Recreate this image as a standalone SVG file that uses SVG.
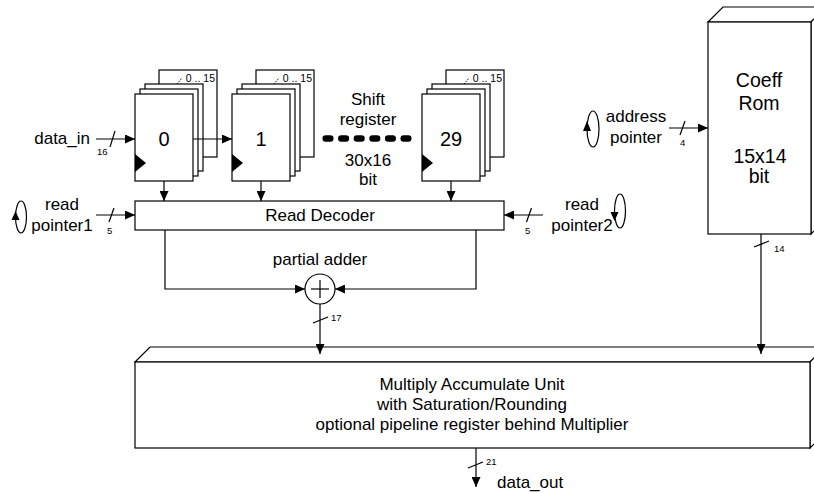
<svg xmlns="http://www.w3.org/2000/svg" width="814" height="493" viewBox="0 0 814 493">
<style>
.box{fill:#fff;stroke:#000;stroke-width:1.2}
.ln{fill:none;stroke:#000;stroke-width:1.2}
.t{font-family:"Liberation Sans",Arial,sans-serif;font-size:17px;fill:#000}
.c{text-anchor:middle}
.s{font-family:"Liberation Sans",Arial,sans-serif;font-size:9.5px;fill:#000}
.idx{font-family:"Liberation Sans",Arial,sans-serif;font-size:10.5px;fill:#000;text-anchor:end}
.num{font-family:"Liberation Sans",Arial,sans-serif;font-size:20px;fill:#000;text-anchor:middle}
</style>
<defs>
<marker id="ah" markerUnits="userSpaceOnUse" markerWidth="10" markerHeight="9" refX="10" refY="4.5" orient="auto">
<path d="M0,0 L10,4.5 L0,9 z" fill="#000"/>
</marker>
<g id="reg">
<rect class="box" x="159" y="70" width="58" height="87"/>
<line x1="177" y1="84" x2="182" y2="78" stroke="#000" stroke-width="1" stroke-dasharray="1.5 1.2"/>
<text class="idx" x="215" y="82">0 .. 15</text>
<rect class="box" x="145" y="84" width="58" height="87"/>
<rect class="box" x="140" y="89" width="58" height="87"/>
<rect class="box" x="135" y="94" width="58" height="87"/>
<polygon points="135,154 146,163 135,172" fill="#000"/>
</g>
</defs>

<g id="reg0">
<use href="#reg"/>
<text class="num" x="164" y="146">0</text>
</g>
<g id="reg1">
<use href="#reg" transform="translate(97,0)"/>
<text class="num" x="261" y="146">1</text>
</g>
<g id="reg29">
<use href="#reg" transform="translate(287,0)"/>
<text class="num" x="451" y="146">29</text>
</g>

<g id="shift-label">
<text class="t c" x="368" y="105">Shift</text>
<text class="t c" x="368" y="125">register</text>
<line x1="325.7" y1="138.5" x2="408.3" y2="138.5" stroke="#000" stroke-width="6.5" stroke-linecap="round" stroke-dasharray="4.6 11"/>
<text class="t c" x="368" y="166">30x16</text>
<text class="t c" x="368" y="185">bit</text>
</g>

<g id="decoder">
<rect class="box" x="135" y="201" width="369" height="29"/>
<text class="t c" x="320" y="221">Read Decoder</text>
</g>

<g id="adder">
<circle class="box" cx="320" cy="289" r="15"/>
<line class="ln" x1="311" y1="289" x2="329" y2="289"/>
<line class="ln" x1="320" y1="280" x2="320" y2="298"/>
<text class="t c" x="320" y="265">partial adder</text>
</g>

<g id="coeffrom">
<polygon class="box" points="708,22 723,7 826,7 811,22"/>
<polygon class="box" points="811,22 826,7 826,219 811,234"/>
<rect class="box" x="708" y="22" width="103" height="212"/>
<text class="t c" x="759" y="87" style="font-size:19.5px">Coeff</text>
<text class="t c" x="759" y="110" style="font-size:19.5px">Rom</text>
<text class="t c" x="760" y="163" style="font-size:19.5px">15x14</text>
<text class="t c" x="759" y="183" style="font-size:19.5px">bit</text>
</g>

<g id="mac">
<polygon class="box" points="135,362 150,347 825,347 810,362"/>
<polygon class="box" points="810,362 825,347 825,433 810,448"/>
<rect class="box" x="135" y="362" width="675" height="86"/>
<text class="t c" x="472" y="390">Multiply Accumulate Unit</text>
<text class="t c" x="472" y="410">with Saturation/Rounding</text>
<text class="t c" x="472" y="430">optional pipeline register behind Multiplier</text>
</g>

<g id="data-in">
<text class="t" x="90" y="144" text-anchor="end">data_in</text>
</g>
<g id="read-pointer1">
<ellipse class="ln" cx="21" cy="217" rx="5.5" ry="16"/>
<polygon points="15.5,211 11.5,220 19.5,220" fill="#000"/>
<text class="t c" x="62" y="210">read</text>
<text class="t c" x="62" y="231">pointer1</text>
</g>
<g id="read-pointer2">
<ellipse class="ln" cx="620" cy="211" rx="5.5" ry="17"/>
<polygon points="614.5,221 610.5,212 618.5,212" fill="#000"/>
<text class="t c" x="582" y="210">read</text>
<text class="t c" x="582" y="231">pointer2</text>
</g>
<g id="address-pointer">
<ellipse class="ln" cx="593" cy="129" rx="6" ry="18"/>
<polygon points="587,121 583,131 591,131" fill="#000"/>
<text class="t c" x="636" y="122">address</text>
<text class="t c" x="636" y="143">pointer</text>
</g>
<g id="data-out">
<text class="t" x="497" y="488">data_out</text>
</g>

<g id="connectors">
<line class="ln" x1="96" y1="139" x2="135" y2="139" marker-end="url(#ah)"/>
<line class="ln" x1="110" y1="147" x2="115" y2="131"/>
<text class="s" x="97" y="155">16</text>
<line class="ln" x1="193" y1="139" x2="232" y2="139" marker-end="url(#ah)"/>
<line class="ln" x1="164" y1="181" x2="164" y2="201" marker-end="url(#ah)"/>
<line class="ln" x1="261" y1="181" x2="261" y2="201" marker-end="url(#ah)"/>
<line class="ln" x1="451" y1="181" x2="451" y2="201" marker-end="url(#ah)"/>
<line class="ln" x1="96" y1="215" x2="135" y2="215" marker-end="url(#ah)"/>
<line class="ln" x1="109" y1="222" x2="114" y2="208"/>
<text class="s" x="107" y="234">5</text>
<line class="ln" x1="543" y1="215" x2="504" y2="215" marker-end="url(#ah)"/>
<line class="ln" x1="526.5" y1="222" x2="531.5" y2="208"/>
<text class="s" x="525" y="234">5</text>
<polyline class="ln" points="165,230 165,289 305,289" marker-end="url(#ah)"/>
<polyline class="ln" points="476,230 476,289 335,289" marker-end="url(#ah)"/>
<line class="ln" x1="320" y1="304" x2="320" y2="354" marker-end="url(#ah)"/>
<line class="ln" x1="313" y1="323" x2="328" y2="317"/>
<text class="s" x="331" y="321">17</text>
<line class="ln" x1="669" y1="128" x2="708" y2="128" marker-end="url(#ah)"/>
<line class="ln" x1="680" y1="135" x2="685" y2="121"/>
<text class="s" x="680" y="146">4</text>
<line class="ln" x1="761" y1="234" x2="761" y2="354" marker-end="url(#ah)"/>
<line class="ln" x1="754" y1="247" x2="769" y2="241"/>
<text class="s" x="774" y="252">14</text>
<line class="ln" x1="476" y1="448" x2="476" y2="487" marker-end="url(#ah)"/>
<line class="ln" x1="468" y1="468" x2="483" y2="462"/>
<text class="s" x="486" y="465">21</text>
</g>
</svg>
